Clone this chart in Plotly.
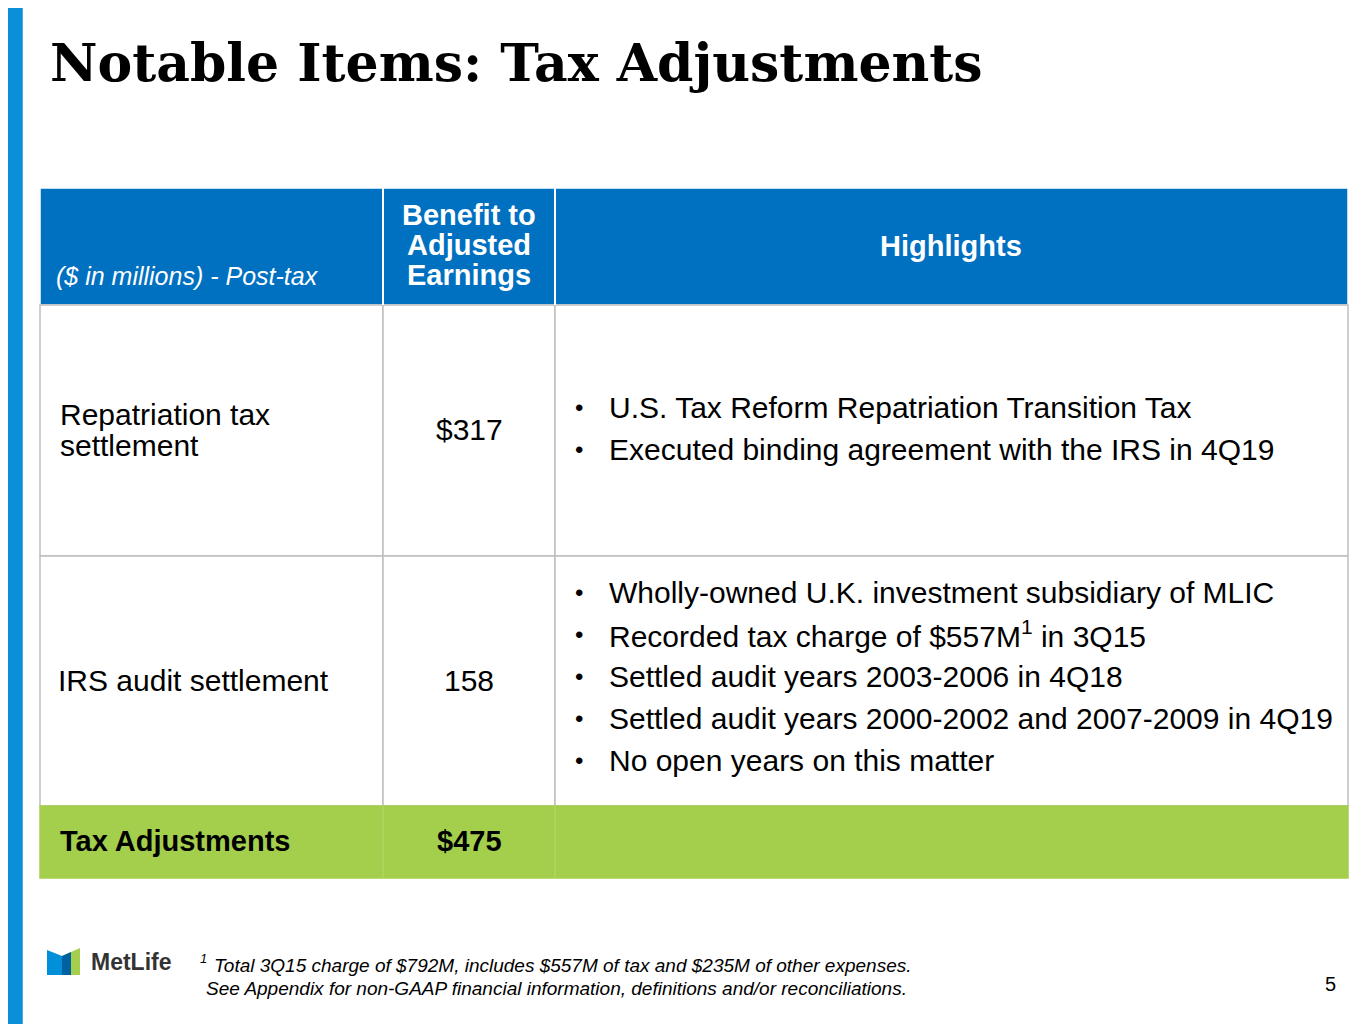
import plotly.graph_objects as go

# table content
items = [["Repatriation tax", "settlement"], ["IRS audit settlement"]]
benefits = ["$317", "158"]
highlights = [
    ["U.S. Tax Reform Repatriation Transition Tax",
     "Executed binding agreement with the IRS in 4Q19"],
    ["Wholly-owned U.K. investment subsidiary of MLIC",
     "Recorded tax charge of $557M<sup>1</sup> in 3Q15",
     "Settled audit years 2003-2006 in 4Q18",
     "Settled audit years 2000-2002 and 2007-2009 in 4Q19",
     "No open years on this matter"],
]
header_benefit = ["Benefit to", "Adjusted", "Earnings"]
total_label = "Tax Adjustments"
total_value = "$475"

W, H = 1365, 1024
OFF = 8  # page body margin
FONT = "Liberation Sans, Arial, sans-serif"
BLUE = "#0070C0"
GREEN = "#A4CF4C"
GRID = "#BFBFBF"

fig = go.Figure()
shapes = []
ann = []

def rect(x0, y0, x1, y1, fill, line=None):
    shapes.append(dict(type="rect", x0=x0, y0=y0, x1=x1, y1=y1, xref="x", yref="y",
                       fillcolor=fill, line=dict(color=line or fill, width=1.5), layer="below"))

def text(x, y, s, size=30, color="black", bold=False, italic=False, anchor="left", family=FONT):
    if bold:
        s = "<b>" + s + "</b>"
    if italic:
        s = "<i>" + s + "</i>"
    ann.append(dict(x=x, y=y, xref="x", yref="y", text=s, showarrow=False, xanchor=anchor,
                    yanchor="middle", align="left",
                    font=dict(family=family, size=size, color=color)))

# left accent bar
rect(-10, -10, 22, H + OFF + 10, "#0A8FD8")

# title
text(48, 62, "Notable Items: Tax Adjustments", size=52, bold=True,
     family="DejaVu Serif, Liberation Serif, serif")

cols = [40, 383, 555, 1348]
rows = [305, 556, 806]

# header
rect(40, 188, 1348, 305, BLUE, "white")
for cx in cols[1:3]:
    shapes.append(dict(type="line", x0=cx, x1=cx, y0=188, y1=305, line=dict(color="white", width=2)))
text(54, 276, "($ in millions) - Post-tax", size=25, color="white", italic=True)
for k, s in enumerate(header_benefit):
    text(469, 215 + 30 * k, s, size=29, color="white", bold=True, anchor="center")
text(951, 246, "Highlights", size=29, color="white", bold=True, anchor="center")

# body rows
for i in range(len(items)):
    y0, y1 = rows[i], rows[i + 1]
    for c in range(3):
        rect(cols[c], y0, cols[c + 1], y1, "white", GRID)
    for k, s in enumerate(items[i]):
        text(56 if i else 58, (414 + 31 * k) if i == 0 else 680, s)
    text(469, 429 if i == 0 else 680, benefits[i], anchor="center")
    lines = highlights[i]
    start = 407 if i == 0 else 592
    for k, h in enumerate(lines):
        yy = start + k * 42
        text(573, yy, "•", size=24)
        text(607, yy, h)

# total row
rect(40, 806, 1348, 878, GREEN)
for cx in cols[1:3]:
    shapes.append(dict(type="line", x0=cx, x1=cx, y0=806, y1=878, line=dict(color="#B5D96A", width=1)))
text(58, 841, total_label, bold=True, size=29)
text(469, 841, total_value, bold=True, size=29, anchor="center")

# logo
shapes.append(dict(type="path", path="M 47 950 L 62 956 L 62 975 L 47 975 Z", xref="x", yref="y",
                   fillcolor="#0090DA", line=dict(width=0)))
shapes.append(dict(type="path", path="M 62 956 L 80 948 L 80 975 L 62 975 Z", xref="x", yref="y",
                   fillcolor="#A4CE4E", line=dict(width=0)))
shapes.append(dict(type="path", path="M 62 956 L 71 952 L 71 975 L 62 975 Z", xref="x", yref="y",
                   fillcolor="#0061A0", line=dict(width=0)))
text(89, 962, "MetLife", size=23, color="#333333", bold=True)

# footnotes
text(198, 958, "1", size=13, italic=True)
text(212, 965, "Total 3Q15 charge of $792M, includes $557M of tax and $235M of other expenses.", size=19, italic=True)
text(204, 988, "See Appendix for non-GAAP financial information, definitions and/or reconciliations.", size=19, italic=True)
text(1338, 984, "5", size=20, anchor="right")

fig.update_layout(width=W, height=H, margin=dict(l=0, r=0, t=0, b=0),
                  plot_bgcolor="white", paper_bgcolor="white", shapes=shapes, annotations=ann,
                  xaxis=dict(range=[OFF, W + OFF], visible=False, fixedrange=True),
                  yaxis=dict(range=[H + OFF, OFF], visible=False, fixedrange=True),
                  showlegend=False)
fig.write_html("out.html")
